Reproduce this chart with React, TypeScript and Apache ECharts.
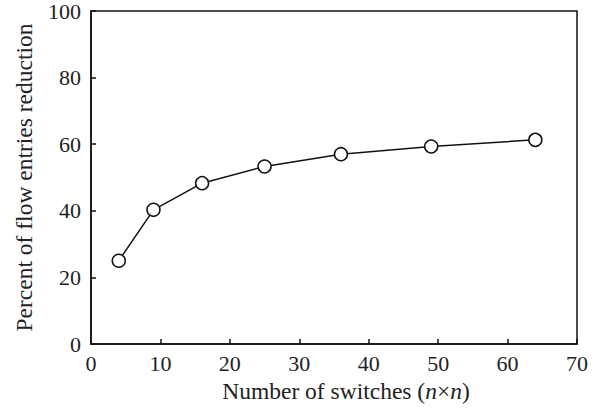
import React, { useEffect, useRef } from "react";
import * as echarts from "echarts";

// Switch counts (n×n) and the resulting reduction in flow entries (%)
const switchCounts = [4, 9, 16, 25, 36, 49, 64];
const reductionPercent = [25, 40.3, 48.3, 53.3, 57, 59.3, 61.3];

const xTicks = { min: 0, max: 70, interval: 10 };
const yTicks = { min: 0, max: 100, interval: 20 };

const FONT = "'Liberation Serif', 'Times New Roman', serif";

export default function App() {
  const ref = useRef<HTMLDivElement>(null);

  useEffect(() => {
    if (!ref.current) return;
    const chart = echarts.init(ref.current, undefined, { renderer: "svg" });
    const data = switchCounts.map((x, i) => [x, reductionPercent[i]]);
    chart.setOption({
      animation: false,
      backgroundColor: "#ffffff",
      grid: {
        left: 91,
        right: 36,
        top: 11,
        bottom: 66,
        show: true,
        borderColor: "#111",
        borderWidth: 1.5,
        backgroundColor: "transparent",
      },
      xAxis: {
        type: "value",
        min: xTicks.min,
        max: xTicks.max,
        interval: xTicks.interval,
        name: "Number of switches ({i|n}×{i|n})",
        nameLocation: "middle",
        nameGap: 35,
        nameTextStyle: {
          fontFamily: FONT,
          fontSize: 23.5,
          color: "#222",
          padding: [0, 0, 0, 24],
          rich: {
            i: { fontFamily: FONT, fontSize: 23.5, fontStyle: "italic", color: "#222" },
          },
        },
        axisLine: { show: true, lineStyle: { color: "#111", width: 1.5 } },
        axisTick: { show: true, inside: true, length: 5, lineStyle: { color: "#111", width: 1.5 } },
        axisLabel: { fontFamily: FONT, fontSize: 22, color: "#222", margin: 8 },
        splitLine: { show: false },
      },
      yAxis: {
        type: "value",
        min: yTicks.min,
        max: yTicks.max,
        interval: yTicks.interval,
        name: "Percent of flow entries reduction",
        nameLocation: "middle",
        nameGap: 55,
        nameTextStyle: { fontFamily: FONT, fontSize: 23.5, color: "#222" },
        axisLine: { show: true, lineStyle: { color: "#111", width: 1.5 } },
        axisTick: { show: true, inside: true, length: 5, lineStyle: { color: "#111", width: 1.5 } },
        axisLabel: { fontFamily: FONT, fontSize: 22, color: "#222", margin: 10 },
        splitLine: { show: false },
      },
      series: [
        {
          type: "line",
          data,
          symbol: "circle",
          symbolSize: 13,
          lineStyle: { color: "#111", width: 1.5 },
          itemStyle: { color: "#ffffff", borderColor: "#111", borderWidth: 1.5 },
        },
      ],
    });
    return () => chart.dispose();
  }, []);

  return (
    <div
      ref={ref}
      style={{ position: "fixed", left: 0, top: 0, width: 613, height: 410 }}
    />
  );
}
